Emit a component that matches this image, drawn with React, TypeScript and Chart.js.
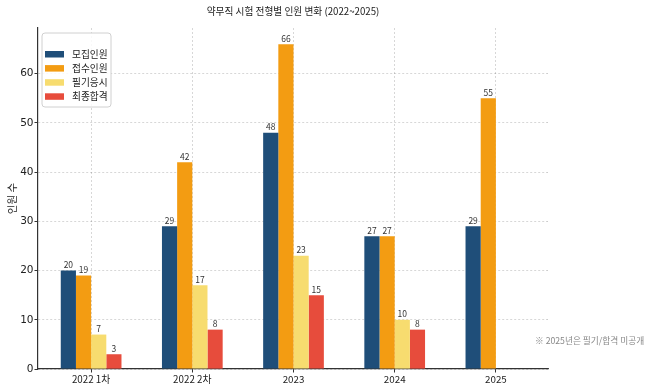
import React, { useEffect, useRef } from "react";
import { Chart, registerables } from "chart.js";

Chart.register(...registerables);

const titleText = "약무직 시험 전형별 인원 변화 (2022~2025)";
const yAxisLabel = "인원 수";
const noteText = "※ 2025년은 필기/합격 미공개";
const categories = ["2022 1차", "2022 2차", "2023", "2024", "2025"];
const seriesNames = ["모집인원", "접수인원", "필기응시", "최종합격"];
const recruitValues = [20, 29, 48, 27, 29];
const appliedValues = [19, 42, 66, 27, 55];
const writtenValues = [7, 17, 23, 10, null];
const passedValues = [3, 8, 15, 8, null];
const yTickValues = [0, 10, 20, 30, 40, 50, 60];
const seriesColors = ["#1f4e79", "#f39c12", "#f7dc6f", "#e74c3c"];

const KR = "'Noto Sans CJK KR', 'Noto Sans', sans-serif";

const overlayPlugin = {
  id: "overlay",
  afterDatasetsDraw(chart: any) {
    const ctx = chart.ctx;
    ctx.save();
    ctx.font = `8.5px ${KR}`;
    ctx.fillStyle = "#333";
    ctx.textAlign = "center";
    ctx.textBaseline = "bottom";
    chart.data.datasets.forEach((ds: any, di: number) => {
      const meta = chart.getDatasetMeta(di);
      meta.data.forEach((bar: any, i: number) => {
        const v = ds.data[i]?.y;
        if (v === null || v === undefined) return;
        ctx.fillText(String(v), bar.x, bar.y - 1.5);
      });
    });
    ctx.restore();
  },
  afterDraw(chart: any) {
    const ctx = chart.ctx;
    const area = chart.chartArea;
    ctx.save();
    // title
    ctx.fillStyle = "#222";
    ctx.font = `9.7px ${KR}`;
    ctx.textAlign = "center";
    ctx.textBaseline = "middle";
    ctx.fillText(titleText, (area.left + area.right) / 2, 11);
    // y label
    ctx.save();
    ctx.translate(12, (area.top + area.bottom) / 2);
    ctx.rotate(-Math.PI / 2);
    ctx.font = `10.5px ${KR}`;
    ctx.fillText(yAxisLabel, 0, 0);
    ctx.restore();
    // note
    ctx.fillStyle = "#888";
    ctx.font = `8.7px ${KR}`;
    ctx.textAlign = "left";
    ctx.fillText(noteText, 535, 341);
    // legend
    const lx = 42, ly = 33, lw = 69, lh = 74;
    ctx.beginPath();
    const r = 3;
    ctx.moveTo(lx + r, ly);
    ctx.lineTo(lx + lw - r, ly);
    ctx.quadraticCurveTo(lx + lw, ly, lx + lw, ly + r);
    ctx.lineTo(lx + lw, ly + lh - r);
    ctx.quadraticCurveTo(lx + lw, ly + lh, lx + lw - r, ly + lh);
    ctx.lineTo(lx + r, ly + lh);
    ctx.quadraticCurveTo(lx, ly + lh, lx, ly + lh - r);
    ctx.lineTo(lx, ly + r);
    ctx.quadraticCurveTo(lx, ly, lx + r, ly);
    ctx.closePath();
    ctx.fillStyle = "rgba(255,255,255,0.85)";
    ctx.fill();
    ctx.strokeStyle = "#d0d0d0";
    ctx.lineWidth = 1;
    ctx.stroke();
    seriesNames.forEach((name, i) => {
      const cy = 54 + i * 14.1;
      ctx.fillStyle = seriesColors[i];
      ctx.fillRect(45, cy - 3, 19, 6.5);
      ctx.fillStyle = "#222";
      ctx.font = `9.7px ${KR}`;
      ctx.textAlign = "left";
      ctx.textBaseline = "middle";
      ctx.fillText(name, 72, cy);
    });
    ctx.restore();
  },
};

export default function App() {
  const ref = useRef<HTMLCanvasElement | null>(null);
  useEffect(() => {
    if (!ref.current) return;
    const valueSets = [recruitValues, appliedValues, writtenValues, passedValues];
    const gridCommon = {
      color: "rgba(0,0,0,0.2)",
      lineWidth: 0.8,
      tickLength: 3.5,
      tickColor: "#333",
      tickWidth: 1,
      tickBorderDash: [],
    };
    const chart = new Chart(ref.current, {
      type: "bar",
      data: {
        datasets: seriesNames.map((name, i) => ({
          label: name,
          data: valueSets[i].map((v, j) => ({ x: j, y: v })),
          backgroundColor: seriesColors[i],
          borderWidth: 0,
          categoryPercentage: 0.6,
          barPercentage: 1.0,
        })),
      },
      options: {
        responsive: false,
        animation: false,
        devicePixelRatio: 1,
        layout: { padding: { top: 28, right: 102, left: 0, bottom: 0 } },
        plugins: {
          legend: { display: false },
          title: { display: false },
          tooltip: { enabled: false },
        },
        scales: {
          x: {
            type: "linear",
            min: -0.525,
            max: 4.515,
            offset: false,
            afterBuildTicks: (s: any) => {
              s.ticks = categories.map((_, i) => ({ value: i }));
            },
            grid: { ...gridCommon, offset: false },
            border: { display: true, color: "#333", width: 1.2, dash: [2, 2] },
            ticks: {
              font: { family: KR, size: 9.8 },
              color: "#222",
              padding: 1,
              maxRotation: 0,
              autoSkip: false,
              callback: (v: any) => categories[v] ?? "",
            },
            afterFit: (s: any) => {
              s.height = 19;
            },
          },
          y: {
            min: 0,
            max: 69.3,
            afterBuildTicks: (s: any) => {
              s.ticks = yTickValues.map((v) => ({ value: v }));
            },
            grid: { ...gridCommon },
            border: { display: true, color: "#333", width: 1.2, dash: [2, 2] },
            ticks: { font: { family: "'DejaVu Sans'", size: 10.5 }, color: "#222", padding: 1 },
            afterFit: (s: any) => {
              s.width = 38;
            },
          },
        },
      },
      plugins: [overlayPlugin],
    } as any);
    return () => chart.destroy();
  }, []);
  return (
    <div style={{ position: "absolute", left: 0, top: 0, width: 650, height: 388, background: "#fff" }}>
      <canvas ref={ref} width={650} height={388} style={{ display: "block", width: 650, height: 388 }} />
    </div>
  );
}
